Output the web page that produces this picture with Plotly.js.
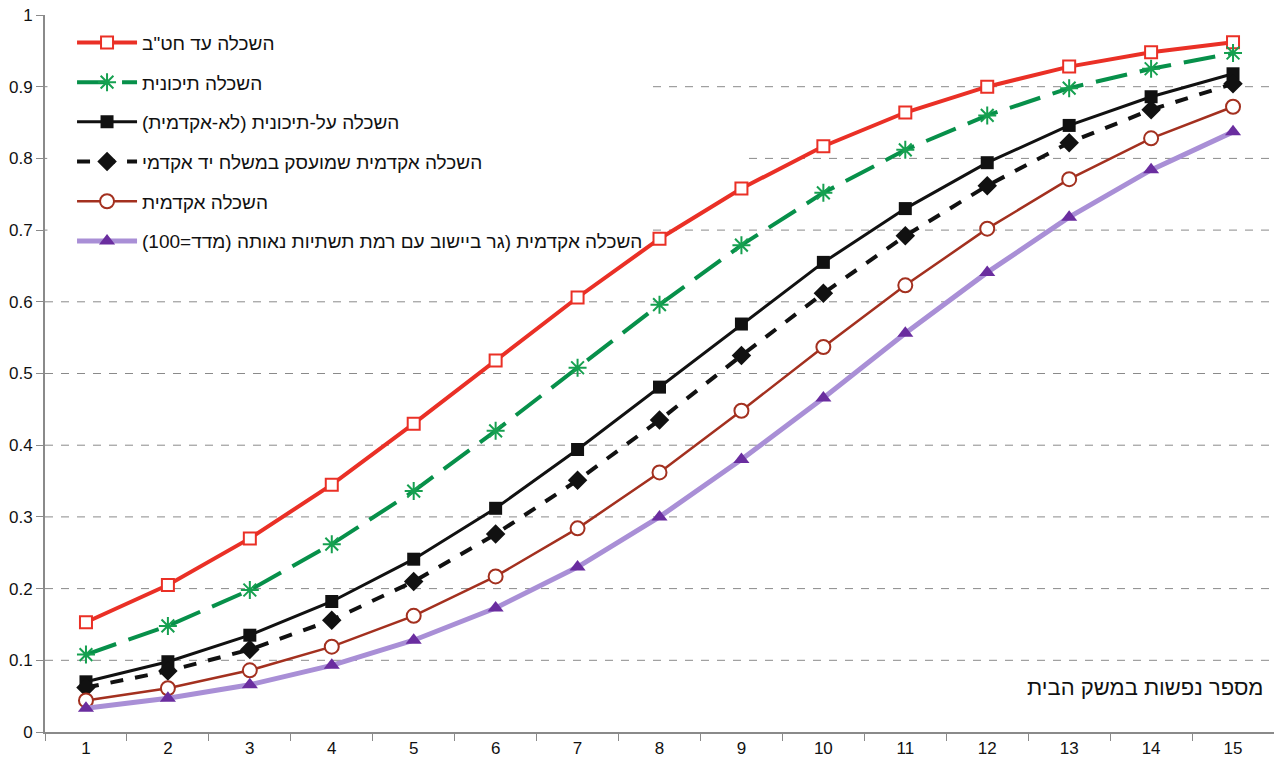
<!DOCTYPE html>
<html>
<head>
<meta charset="utf-8">
<script src="https://cdn.plot.ly/plotly-3.0.1.min.js"></script>
<style>html,body{margin:0;padding:0;background:#fff;}#chart{width:1274px;height:771px;}</style>
</head>
<body>
<div id="chart"></div>
<script>
const categories = ['1','2','3','4','5','6','7','8','9','10','11','12','13','14','15'];
const seriesNames = [
  'השכלה עד חט"ב',
  'השכלה תיכונית',
  'השכלה על-תיכונית (לא-אקדמית)',
  'השכלה אקדמית שמועסק במשלח יד אקדמי',
  'השכלה אקדמית',
  'השכלה אקדמית (גר ביישוב עם רמת תשתיות נאותה (מדד=100)'
];
const middleSchool = [0.153,0.205,0.270,0.345,0.430,0.518,0.606,0.688,0.758,0.817,0.864,0.900,0.928,0.948,0.962];
const highSchool   = [0.108,0.148,0.198,0.262,0.336,0.420,0.508,0.596,0.679,0.752,0.812,0.860,0.898,0.925,0.947];
const postSecondary= [0.070,0.098,0.135,0.182,0.241,0.312,0.394,0.481,0.569,0.655,0.730,0.794,0.846,0.886,0.918];
const academicJob  = [0.062,0.085,0.115,0.156,0.210,0.276,0.351,0.435,0.525,0.612,0.692,0.762,0.822,0.868,0.904];
const academic     = [0.044,0.061,0.086,0.119,0.162,0.217,0.284,0.362,0.448,0.537,0.623,0.702,0.771,0.828,0.872];
const academicInfra= [0.033,0.047,0.066,0.093,0.128,0.173,0.230,0.300,0.380,0.466,0.556,0.641,0.718,0.784,0.837];
const yTicks = [0,0.1,0.2,0.3,0.4,0.5,0.6,0.7,0.8,0.9,1];
const yTickText = ['0','0.1','0.2','0.3','0.4','0.5','0.6','0.7','0.8','0.9','1'];
const gridValues = [0.1,0.2,0.3,0.4,0.5,0.6,0.7,0.8,0.9];
const xTitle = 'מספר נפשות במשק הבית';

const traces = [
  {y: middleSchool, name: seriesNames[0],
   line:{color:'#ea3026', width:4},
   marker:{symbol:'square', size:12, color:'#ffffff', line:{color:'#ea3026', width:2}}},
  {y: highSchool, name: seriesNames[1],
   line:{color:'#07904a', width:4, dash:'32px,13px'},
   marker:{symbol:'asterisk-open', size:15, color:'#16a050', line:{color:'#16a050', width:2}}},
  {y: postSecondary, name: seriesNames[2],
   line:{color:'#111111', width:3},
   marker:{symbol:'square', size:13, color:'#111111'}},
  {y: academicJob, name: seriesNames[3],
   line:{color:'#111111', width:4, dash:'13px,12px'},
   marker:{symbol:'diamond', size:15, color:'#111111'}},
  {y: academic, name: seriesNames[4],
   line:{color:'#a3301f', width:2.5},
   marker:{symbol:'circle', size:14, color:'#ffffff', line:{color:'#a3301f', width:2}}},
  {y: academicInfra, name: seriesNames[5],
   line:{color:'#a98fd6', width:5},
   marker:{symbol:'triangle-up', size:14, color:'#6a2d9f'}}
].map((t,i) => Object.assign({x: categories, type:'scatter', mode:'lines+markers', legendgroup:'g'+i}, t));

const shapes = gridValues.map(v => ({
  type:'line', xref:'paper', yref:'y', x0:0, x1:1, y0:v, y1:v, layer:'below',
  line:{color:'#8a8a8a', width:1, dash:'8px,8px'}
}));
// white panels behind the legend area (below the data lines, above the gridlines)
shapes.push({type:'rect', xref:'paper', yref:'paper', x0:0.002, x1:0.493, y0:0.66, y1:1,
             layer:'below', line:{width:0}, fillcolor:'#ffffff'});
shapes.push({type:'rect', xref:'paper', yref:'paper', x0:0.002, x1:0.567, y0:0.785, y1:0.815,
             layer:'below', line:{width:0}, fillcolor:'#ffffff'});

const layout = {
  width:1274, height:771,
  margin:{l:45, r:0, t:15, b:39},
  paper_bgcolor:'#ffffff', plot_bgcolor:'#ffffff',
  font:{family:'Liberation Sans, Arial, sans-serif', color:'#111111', size:16},
  showlegend:true,
  legend:{x:0.022, y:0.988, xanchor:'left', yanchor:'top', bgcolor:'rgba(0,0,0,0)',
          font:{size:19, color:'#111111'}, tracegroupgap:12, itemwidth:60},
  xaxis:{type:'category', range:[-0.5,14.5], tickson:'boundaries', ticks:'outside', ticklen:7,
         tickcolor:'#8a8a8a', showline:true, linecolor:'#8a8a8a', linewidth:2, showgrid:false,
         zeroline:false, fixedrange:true, tickfont:{size:17}},
  yaxis:{range:[0,1], tickvals:yTicks, ticktext:yTickText, ticks:'outside', ticklen:7,
         tickcolor:'#8a8a8a', showline:true, linecolor:'#8a8a8a', linewidth:2, showgrid:false,
         zeroline:false, fixedrange:true, tickfont:{size:17}},
  shapes: shapes,
  annotations:[{text:xTitle, xref:'paper', yref:'paper', x:0.993, y:0.062, xanchor:'right', yanchor:'middle',
                showarrow:false, font:{size:22, color:'#111111'}}]
};
Plotly.newPlot('chart', traces, layout, {staticPlot:true, displayModeBar:false});
</script>
</body>
</html>
